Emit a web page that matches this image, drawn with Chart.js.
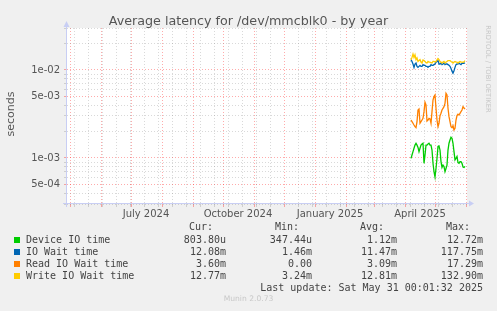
<!DOCTYPE html>
<html><head><meta charset="utf-8">
<script src="https://cdn.jsdelivr.net/npm/chart.js@4.4.0/dist/chart.umd.min.js"></script>
<style>
html,body{margin:0;padding:0;background:#f0f0f0;}
#wrap{position:relative;width:497px;height:311px;overflow:hidden;background:#f0f0f0;font-family:"DejaVu Sans",sans-serif;font-weight:normal;}
canvas{position:absolute;left:0;top:0;}
.t{position:absolute;white-space:pre;font-weight:normal;}
.mono{font-family:"DejaVu Sans Mono",monospace;font-size:10px;line-height:12px;color:#444;}
.sw{position:absolute;width:6px;height:6px;}
</style></head><body>
<div id="wrap"><canvas id="c" width="497" height="311"></canvas></div>
<script>
// ---- data ----
const titleText = "Average latency for /dev/mmcblk0 - by year";
const seriesNames = ["Device IO time", "IO Wait time", "Read IO Wait time", "Write IO Wait time"];
const seriesColors = ["#00CC00", "#0066B3", "#FF8000", "#FFCC00"];
const curVals = ["803.80u", "12.08m", "3.60m", "12.77m"];
const minVals = ["347.44u", "1.46m", "0.00", "3.24m"];
const avgVals = ["1.12m", "11.47m", "3.09m", "12.81m"];
const maxVals = ["12.72m", "117.75m", "17.29m", "132.90m"];
const lastUpdate = "Last update: Sat May 31 00:01:32 2025";
const firstDay = [2025, 4, 7]; // daily samples start
const xLabelMonths = [[2024, 7, "July 2024"], [2024, 10, "October 2024"], [2025, 1, "January 2025"], [2025, 4, "April 2025"]];
const yTickLabels = [[1e-2, "1e-02"], [5e-3, "5e-03"], [1e-3, "1e-03"], [5e-4, "5e-04"]];

const deviceIO = [9.9e-4, 1.08e-3, 1.18e-3, 1.29e-3, 1.40e-3, 1.47e-3, 1.40e-3, 1.32e-3, 1.18e-3, 1.29e-3,
  1.40e-3, 1.44e-3, 1.47e-3, 8.7e-4, 1.08e-3, 1.40e-3, 1.40e-3, 1.44e-3, 1.47e-3, 1.40e-3,
  1.40e-3, 1.23e-3, 8.7e-4, 7.0e-4, 6.1e-4, 7.6e-4, 9.9e-4, 1.35e-3, 1.37e-3, 1.23e-3,
  9.1e-4, 7.8e-4, 8.3e-4, 8.0e-4, 7.0e-4, 7.6e-4, 8.3e-4, 1.23e-3, 1.47e-3, 1.60e-3,
  1.72e-3, 1.67e-3, 1.47e-3, 1.18e-3, 9.5e-4, 9.9e-4, 1.04e-3, 8.85e-4, 8.7e-4, 9.1e-4,
  9.1e-4, 8.7e-4, 7.9e-4, 7.8e-4, 8.04e-4];
const ioWait = [1.31e-2, 1.25e-2, 1.17e-2, 1.07e-2, 1.17e-2, 1.20e-2, 1.10e-2, 1.07e-2, 1.10e-2, 1.13e-2,
  1.10e-2, 1.10e-2, 1.15e-2, 1.13e-2, 1.13e-2, 1.10e-2, 1.10e-2, 1.07e-2, 1.10e-2, 1.10e-2,
  1.15e-2, 1.13e-2, 1.13e-2, 1.15e-2, 1.17e-2, 1.23e-2, 1.25e-2, 1.28e-2, 1.17e-2, 1.17e-2,
  1.20e-2, 1.15e-2, 1.17e-2, 1.20e-2, 1.15e-2, 1.17e-2, 1.17e-2, 1.15e-2, 1.13e-2, 1.10e-2,
  1.04e-2, 9.7e-3, 9.2e-3, 9.8e-3, 1.07e-2, 1.15e-2, 1.17e-2, 1.17e-2, 1.20e-2, 1.17e-2,
  1.15e-2, 1.19e-2, 1.20e-2, 1.19e-2, 1.208e-2];
const readWait = [2.70e-3, 2.59e-3, 2.48e-3, 2.37e-3, 2.27e-3, 2.21e-3, 2.59e-3, 3.51e-3, 3.60e-3, 2.48e-3,
  2.59e-3, 2.70e-3, 2.82e-3, 3.36e-3, 4.29e-3, 4.00e-3, 2.63e-3, 2.70e-3, 2.82e-3, 2.78e-3,
  2.48e-3, 3.36e-3, 4.56e-3, 4.98e-3, 5.20e-3, 3.67e-3, 2.70e-3, 2.27e-3, 2.48e-3, 3.03e-3,
  3.22e-3, 3.51e-3, 3.67e-3, 3.83e-3, 4.18e-3, 5.43e-3, 5.20e-3, 3.67e-3, 2.95e-3, 2.59e-3,
  2.27e-3, 2.21e-3, 2.33e-3, 2.08e-3, 2.17e-3, 2.70e-3, 3.03e-3, 3.14e-3, 3.08e-3, 3.22e-3,
  3.36e-3, 3.51e-3, 3.83e-3, 3.70e-3, 3.60e-3];
const writeWait = [1.31e-2, 1.39e-2, 1.52e-2, 1.39e-2, 1.49e-2, 1.31e-2, 1.37e-2, 1.25e-2, 1.28e-2, 1.31e-2,
  1.23e-2, 1.20e-2, 1.30e-2, 1.28e-2, 1.25e-2, 1.21e-2, 1.20e-2, 1.25e-2, 1.23e-2, 1.23e-2,
  1.21e-2, 1.20e-2, 1.25e-2, 1.25e-2, 1.23e-2, 1.25e-2, 1.30e-2, 1.35e-2, 1.31e-2, 1.25e-2,
  1.23e-2, 1.20e-2, 1.23e-2, 1.25e-2, 1.20e-2, 1.23e-2, 1.25e-2, 1.28e-2, 1.28e-2, 1.28e-2,
  1.25e-2, 1.23e-2, 1.20e-2, 1.23e-2, 1.25e-2, 1.23e-2, 1.23e-2, 1.20e-2, 1.23e-2, 1.25e-2,
  1.23e-2, 1.23e-2, 1.22e-2, 1.24e-2, 1.277e-2];
const allSeries = [deviceIO, ioWait, readWait, writeWait];

// ---- helpers ----
function dnum(y, m, d) { return Date.UTC(y, m - 1, d) / 864e5; }
const xMin = dnum(2024, 4, 28), xMax = xMin + 400;
const RED = "rgba(255,0,0,0.33)", GRAY = "rgba(128,128,128,0.30)";

// x ticks: month starts (major), biweekly (minor), labels at month + 15 days
const xTickInfo = new Map();
for (let d = dnum(2024, 5, 5); d < xMax; d += 14) xTickInfo.set(d, { kind: "minor", label: "" });
for (let y = 2024, m = 5; dnum(y, m, 1) < xMax; m++) {
  if (m > 12) { m = 1; y++; }
  if (dnum(y, m, 1) > xMin) xTickInfo.set(dnum(y, m, 1), { kind: "major", label: "" });
}
xLabelMonths.forEach(([y, m, l]) => {
  const v = dnum(y, m, 1) + 15;
  const prev = xTickInfo.get(v);
  xTickInfo.set(v, { kind: prev ? prev.kind : "label", label: l });
});
const xTickValues = [...xTickInfo.keys()].sort((a, b) => a - b);

// y ticks 3e-4 .. 3e-2
const yTickValues = [];
[-4, -3, -2].forEach(e => { for (let k = 1; k <= 9; k++) { const v = k * Math.pow(10, e); if (v >= 3e-4 * 0.999 && v <= 3e-2 * 1.001) yTickValues.push(+v.toPrecision(3)); } });
function yKind(v) { const e = Math.floor(Math.log10(v) + 1e-9); const mant = Math.round(v / Math.pow(10, e)); return (mant === 1 || mant === 5) ? "major" : "minor"; }
function yLabel(v) { const f = yTickLabels.find(t => Math.abs(t[0] - v) / v < 1e-6); return f ? f[1] : ""; }

const datasets = allSeries.map((vals, i) => ({
  label: seriesNames[i],
  data: vals.map((v, k) => ({ x: dnum(firstDay[0], firstDay[1], firstDay[2]) + k, y: v })),
  borderColor: seriesColors[i], backgroundColor: seriesColors[i],
  borderWidth: 1.3, pointRadius: 0, tension: 0, fill: false, order: 4 - i
}));

const framePlugin = {
  id: "frame",
  beforeDraw(chart) {
    const { ctx, chartArea: a } = chart;
    ctx.save(); ctx.fillStyle = "#fff"; ctx.fillRect(a.left, a.top, a.right - a.left, a.bottom - a.top); ctx.restore();
  },
  afterDatasetsDraw(chart) {
    const { ctx, chartArea: a } = chart;
    ctx.save();
    ctx.strokeStyle = "#C8CEF4"; ctx.fillStyle = "#C8CEF4"; ctx.lineWidth = 1;
    const ax = a.left - 0.5, ay = a.bottom - 0.5;
    ctx.beginPath(); ctx.moveTo(ax, a.bottom + 3); ctx.lineTo(ax, a.top - 4); ctx.stroke();
    ctx.beginPath(); ctx.moveTo(a.left - 4, ay); ctx.lineTo(a.right + 3, ay); ctx.stroke();
    ctx.beginPath(); ctx.moveTo(ax, a.top - 7); ctx.lineTo(ax - 3, a.top - 1); ctx.lineTo(ax + 3, a.top - 1); ctx.closePath(); ctx.fill();
    ctx.beginPath(); ctx.moveTo(a.right + 7, ay); ctx.lineTo(a.right + 2, ay - 3); ctx.lineTo(a.right + 2, ay + 3); ctx.closePath(); ctx.fill();
    ctx.restore();
  }
};

new Chart(document.getElementById("c"), {
  type: "line",
  data: { datasets },
  options: {
    responsive: false, animation: false, devicePixelRatio: 1,
    layout: { padding: { left: 0, right: 30, top: 28, bottom: 87 } },
    plugins: { legend: { display: false }, tooltip: { enabled: false }, title: { display: false } },
    scales: {
      x: {
        type: "linear", min: xMin, max: xMax,
        afterBuildTicks(s) { s.ticks = xTickValues.map(v => ({ value: v })); },
        afterFit(s) { s.height = 20; },
        ticks: {
          autoSkip: false, maxRotation: 0, minRotation: 0, padding: 1,
          color: "#555", font: { family: "DejaVu Sans", size: 10 },
          callback: (v) => { const t = xTickInfo.get(v); return t ? t.label : ""; }
        },
        grid: {
          lineWidth: 1, tickLength: 3,
          color: (c) => { const t = c.tick && xTickInfo.get(c.tick.value); if (!t || t.kind === "label") return "rgba(0,0,0,0)"; return t.kind === "major" ? RED : GRAY; },
          tickColor: (c) => { const t = c.tick && xTickInfo.get(c.tick.value); if (!t || t.kind === "label") return "rgba(0,0,0,0)"; return t.kind === "major" ? RED : GRAY; }
        },
        border: { display: false, dash: [1, 2] }
      },
      y: {
        type: "logarithmic", min: 3e-4, max: 3e-2,
        afterBuildTicks(s) { s.ticks = yTickValues.map(v => ({ value: v })); },
        afterFit(s) { s.width = 67; },
        ticks: {
          autoSkip: false, padding: 4, color: "#555", font: { family: "DejaVu Sans", size: 10 },
          callback: (v) => yLabel(v)
        },
        grid: {
          lineWidth: 1, tickLength: 3,
          color: (c) => c.tick ? (yKind(c.tick.value) === "major" ? RED : GRAY) : "rgba(0,0,0,0)",
          tickColor: (c) => c.tick ? (yKind(c.tick.value) === "major" ? RED : GRAY) : "rgba(0,0,0,0)"
        },
        border: { display: false, dash: [1, 2] }
      }
    }
  },
  plugins: [framePlugin]
});

// ---- text overlays ----
const wrap = document.getElementById("wrap");
function addText(txt, css, cls) {
  const d = document.createElement("div"); d.className = "t " + (cls || ""); d.textContent = txt;
  Object.assign(d.style, css); wrap.appendChild(d); return d;
}
addText(titleText, { left: "0px", width: "497px", textAlign: "center", top: "13px", fontSize: "12.7px", lineHeight: "15px", color: "#555" });
addText("seconds", { left: "-39px", width: "100px", height: "14px", textAlign: "center", top: "107px", fontSize: "11px", lineHeight: "14px", color: "#555", fontWeight: "normal", transform: "rotate(-90deg)" });
addText("RRDTOOL / TOBI OETIKER", { left: "438px", width: "100px", height: "10px", textAlign: "center", top: "64px", fontSize: "6.8px", lineHeight: "10px", color: "#c8c8c8", transform: "rotate(90deg)" });

const rowY = [239.7, 251.7, 263.7, 275.7];
const colRight = [226, 312, 397, 483];
const headRight = [213, 299, 384, 470];
["Cur:", "Min:", "Avg:", "Max:"].forEach((h, j) => addText(h, { right: (497 - headRight[j]) + "px", top: (227.3 - 6) + "px", textAlign: "right" }, "mono"));
seriesNames.forEach((n, i) => {
  const sw = document.createElement("div"); sw.className = "sw";
  Object.assign(sw.style, { left: "14px", top: (rowY[i] - 3) + "px", background: seriesColors[i] }); wrap.appendChild(sw);
  addText(n, { left: "26px", top: (rowY[i] - 6) + "px" }, "mono");
  [curVals, minVals, avgVals, maxVals].forEach((col, j) => addText(col[i], { right: (497 - colRight[j]) + "px", top: (rowY[i] - 6) + "px", textAlign: "right" }, "mono"));
});
addText(lastUpdate, { right: (497 - 483) + "px", top: (287.7 - 6) + "px", textAlign: "right" }, "mono");
addText("Munin 2.0.73", { left: "0px", width: "497px", textAlign: "center", top: "294px", fontSize: "7.6px", lineHeight: "10px", color: "#c8c8c8" });
</script>
</body></html>
